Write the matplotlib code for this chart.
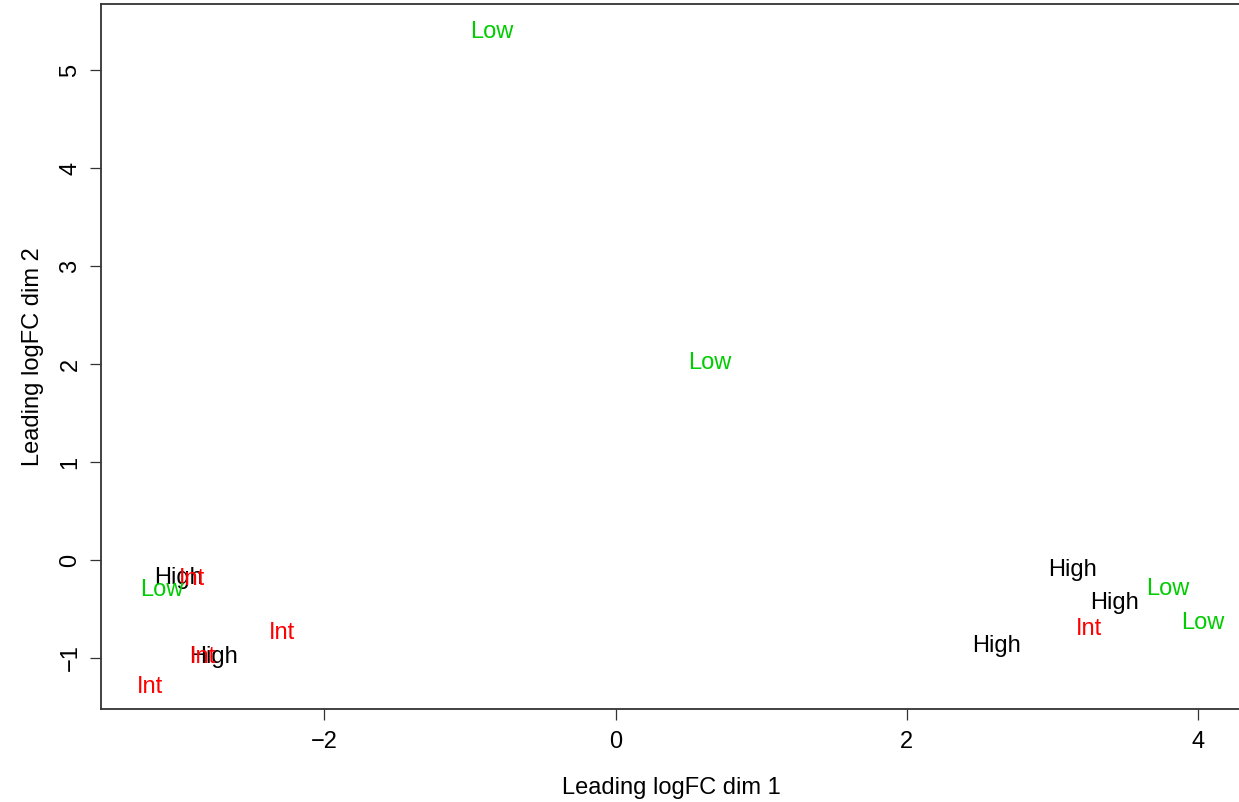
import matplotlib
matplotlib.use("Agg")
import matplotlib.pyplot as plt
from matplotlib.transforms import offset_copy

# MDS coordinates
labels = ["Low", "Low", "High", "Int", "Low", "Int", "High", "Int", "Int",
          "High", "Low", "High", "Int", "Low", "High"]
dim1 = [-0.85, 0.65, -3.00, -2.91, -3.12, -2.29, -2.76, -2.83, -3.20,
        3.14, 3.79, 3.43, 3.25, 4.03, 2.62]
dim2 = [5.41, 2.04, -0.16, -0.17, -0.28, -0.72, -0.96, -0.96, -1.27,
        -0.08, -0.27, -0.41, -0.68, -0.62, -0.85]
colours = {"High": "black", "Int": "#FF0000", "Low": "#00CD00"}

plt.rcParams["font.family"] = ["Liberation Sans", "DejaVu Sans"]
plt.rcParams["font.size"] = 17

fig = plt.figure(figsize=(12.39, 8.02), dpi=100)
# box runs a little past the right edge of the picture, as in the reference
ax = fig.add_axes([101 / 1239, 1 - 709 / 802, (1241 - 101) / 1239, (709 - 4) / 802])

trans = offset_copy(ax.transData, fig=fig, x=0, y=-2.5, units="dots")
for lab, x, y in zip(labels, dim1, dim2):
    ax.text(x, y, lab, color=colours[lab], ha="center", va="center",
            fontsize=17, transform=trans)

ax.set_xlim(-3.534, 4.296)
ax.set_ylim(-1.52, 5.673)
ax.set_xticks([-2, 0, 2, 4])
ax.set_yticks([-1, 0, 1, 2, 3, 4, 5])
ax.set_yticklabels(["\u22121", "0", "1", "2", "3", "4", "5"])
ax.set_xticklabels(["\u22122", "0", "2", "4"])
ax.tick_params(axis="both", length=8, width=0.9, color="#333333", pad=8)
ax.tick_params(axis="y", labelrotation=90, pad=6)
for t in ax.get_yticklabels():
    t.set_va("center")
for s in ax.spines.values():
    s.set_linewidth(1.3)
    s.set_color("#333333")

ax.set_xlabel("Leading logFC dim 1", labelpad=17)
ax.set_ylabel("Leading logFC dim 2", labelpad=11)

fig.savefig("out.png", dpi=100)
